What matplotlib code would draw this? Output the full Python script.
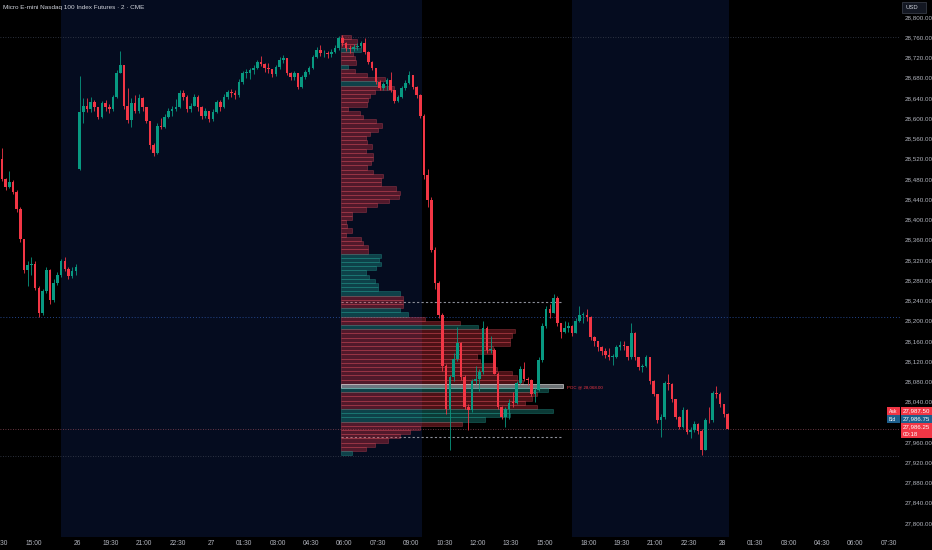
import matplotlib
matplotlib.use('Agg')
import matplotlib.pyplot as plt
from matplotlib.patches import Rectangle
import numpy as np

# ---------------- data ----------------
CANDLE_MIN = 10          # each candle = 10 trading minutes, t=0 at 13:30 (day 25), session gaps removed
first_open = 28520
gap_index = 21           # first candle of the 18:00 session (gap open)
gap_open = 28500

closes = [28480, 28465, 28473, 28455, 28420, 28362, 28300, 28310, 28312, 28265,
          28215, 28258, 28300, 28240, 28275, 28290, 28318, 28302, 28288, 28298,
          28305, 28612, 28625, 28618, 28632, 28622, 28603, 28630, 28622, 28618,
          28642, 28690, 28705, 28625, 28596, 28630, 28615, 28640, 28622, 28595,
          28548, 28532, 28585, 28583, 28602, 28615, 28618, 28622, 28650, 28642,
          28618, 28625, 28642, 28622, 28605, 28615, 28598, 28612, 28632, 28622,
          28642, 28652, 28650, 28645, 28672, 28690, 28690, 28695, 28700, 28712,
          28708, 28700, 28697, 28688, 28702, 28716, 28718, 28690, 28682, 28690,
          28662, 28682, 28692, 28700, 28720, 28735, 28728, 28728, 28726, 28730,
          28738, 28758, 28748, 28738, 28736, 28740, 28742, 28748, 28730, 28712,
          28700, 28672, 28660, 28668, 28675, 28656, 28634, 28642, 28660, 28670,
          28686, 28662, 28645, 28605, 28488, 28438, 28340, 28275, 28211, 28110,
          28025, 28088, 28125, 28155, 28088, 28030, 28023, 28080, 28085, 28098,
          28185, 28142, 28142, 28095, 28030, 28010, 28025, 28038, 28037, 28077,
          28105, 28085, 28082, 28055, 28062, 28122, 28190, 28222, 28215, 28245,
          28195, 28178, 28185, 28190, 28176, 28200, 28212, 28212, 28208, 28167,
          28160, 28148, 28140, 28132, 28128, 28128, 28148, 28152, 28150, 28128,
          28175, 28128, 28108, 28110, 28128, 28080, 28055, 28003, 28010, 28077,
          28075, 28045, 28010, 27990, 28023, 27980, 27984, 27996, 27982, 27945,
          28004, 28003, 28057, 28055, 28035, 28015, 27986.25]

highs = [28542, 28482, 28495, 28478, 28458, 28425, 28360, 28318, 28325, 28318,
         28268, 28262, 28305, 28302, 28282, 28296, 28322, 28325, 28305, 28306,
         28312, 28683, 28640, 28640, 28642, 28636, 28622, 28634, 28635, 28628,
         28645, 28695, 28732, 28705, 28660, 28640, 28645, 28648, 28642, 28622,
         28595, 28550, 28590, 28600, 28608, 28620, 28625, 28638, 28655, 28655,
         28645, 28630, 28648, 28645, 28625, 28620, 28615, 28618, 28636, 28635,
         28648, 28656, 28658, 28655, 28678, 28694, 28698, 28700, 28705, 28716,
         28722, 28710, 28710, 28698, 28706, 28720, 28724, 28718, 28692, 28694,
         28690, 28686, 28696, 28704, 28724, 28740, 28745, 28734, 28732, 28736,
         28744, 28762, 28764, 28750, 28744, 28746, 28748, 28752, 28758, 28732,
         28714, 28700, 28675, 28672, 28680, 28692, 28656, 28646, 28664, 28676,
         28694, 28686, 28664, 28648, 28608, 28500, 28444, 28345, 28278, 28215,
         28115, 28092, 28135, 28188, 28158, 28092, 28035, 28085, 28110, 28105,
         28200, 28190, 28170, 28145, 28098, 28032, 28030, 28045, 28058, 28080,
         28110, 28118, 28088, 28085, 28066, 28128, 28195, 28228, 28232, 28252,
         28248, 28196, 28200, 28198, 28192, 28205, 28228, 28216, 28222, 28210,
         28170, 28160, 28150, 28145, 28145, 28134, 28152, 28160, 28160, 28150,
         28196, 28178, 28128, 28115, 28132, 28128, 28082, 28055, 28015, 28080,
         28094, 28076, 28046, 28012, 28030, 28025, 27990, 28002, 27998, 27985,
         28008, 28030, 28060, 28070, 28058, 28036, 28018]

lows = [28475, 28458, 28462, 28450, 28415, 28355, 28295, 28268, 28290, 28260,
        28208, 28212, 28255, 28232, 28236, 28270, 28286, 28298, 28282, 28284,
        28290, 28497, 28590, 28612, 28612, 28615, 28598, 28600, 28615, 28610,
        28615, 28640, 28690, 28618, 28590, 28582, 28610, 28610, 28615, 28590,
        28540, 28525, 28530, 28578, 28580, 28600, 28605, 28615, 28620, 28635,
        28612, 28612, 28625, 28615, 28598, 28600, 28592, 28595, 28610, 28615,
        28620, 28638, 28642, 28638, 28642, 28668, 28680, 28678, 28688, 28698,
        28704, 28692, 28690, 28682, 28684, 28698, 28710, 28685, 28675, 28676,
        28658, 28660, 28678, 28688, 28698, 28718, 28722, 28720, 28718, 28720,
        28728, 28735, 28742, 28732, 28728, 28732, 28734, 28738, 28726, 28708,
        28695, 28668, 28655, 28656, 28656, 28652, 28630, 28632, 28640, 28656,
        28668, 28658, 28640, 28600, 28480, 28425, 28335, 28262, 28205, 28100,
        28015, 27944, 28080, 28120, 28082, 28025, 27984, 28020, 28075, 28060,
        28095, 28135, 28135, 28095, 28025, 28005, 27990, 28005, 28030, 28035,
        28075, 28080, 28072, 28050, 28040, 28060, 28118, 28185, 28205, 28225,
        28190, 28165, 28175, 28178, 28170, 28175, 28198, 28195, 28200, 28162,
        28150, 28140, 28132, 28126, 28122, 28112, 28126, 28142, 28142, 28122,
        28125, 28122, 28102, 28098, 28108, 28075, 28050, 27998, 27970, 28005,
        28062, 28040, 28005, 27985, 27988, 27975, 27968, 27980, 27976, 27934,
        27945, 27998, 28000, 28048, 28030, 28010, 27985]

time_tick_pos = [0, 90, 210, 300, 390, 480, 570, 660, 750, 840, 930, 1020, 1110,
                 1200, 1290, 1380, 1470, 1590, 1680, 1770, 1860, 1950, 2040, 2130,
                 2220, 2310, 2400]
time_tick_labels = ['13:30', '15:00', '26', '19:30', '21:00', '22:30', '27', '01:30',
                    '03:00', '04:30', '06:00', '07:30', '09:00', '10:30', '12:00',
                    '13:30', '15:00', '18:00', '19:30', '21:00', '22:30', '28',
                    '01:30', '03:00', '04:30', '06:00', '07:30']

session_spans = [(165, 1140), (1545, 1970)]

# fixed-range volume profile (rows listed top -> bottom)
vp_start, vp_end = 920, 1520
vp_low, vp_high = 27934, 28764
vp_volume = [10, 16, 16, 20, 12, 14, 15, 7, 14, 26,
             44, 36, 53, 34, 29, 27, 26, 7, 19, 22,
             35, 41, 37, 29, 25, 26, 31, 25, 32, 32,
             30, 26, 32, 42, 40, 40, 55, 59, 58, 48,
             36, 25, 11, 11, 5, 6, 11, 5, 20, 22,
             27, 27, 40, 38, 40, 35, 25, 28, 34, 37,
             37, 59, 62, 62, 62, 59, 67, 84, 119, 137,
             174, 171, 169, 169, 152, 154, 136, 139, 152, 156,
             171, 176, 182, 222, 207, 196, 191, 184, 196, 212,
             169, 144, 121, 79, 69, 59, 47, 34, 25, 11]
# d = down-dominant row, u = up-dominant row, p = point of control
vp_side = ['d', 'd', 'd', 'u', 'd', 'd', 'd', 'u', 'd', 'd',
           'd', 'u', 'd', 'd', 'd', 'd', 'd', 'd', 'd', 'd',
           'd', 'd', 'd', 'd', 'd', 'd', 'd', 'd', 'd', 'd',
           'd', 'd', 'd', 'd', 'd', 'd', 'd', 'd', 'd', 'd',
           'd', 'd', 'd', 'd', 'd', 'd', 'd', 'd', 'd', 'd',
           'd', 'd', 'u', 'u', 'u', 'u', 'u', 'u', 'u', 'u',
           'u', 'u', 'd', 'd', 'd', 'u', 'u', 'd', 'd', 'u',
           'd', 'd', 'd', 'd', 'd', 'd', 'd', 'd', 'd', 'd',
           'd', 'd', 'd', 'p', 'u', 'd', 'd', 'd', 'd', 'u',
           'u', 'u', 'd', 'd', 'd', 'd', 'd', 'd', 'd', 'u']
poc_price = 28068.00
va_high, va_low = 28237, 27970

session_high_line = 28760
ref_line = 28208
session_low_line = 27932
last_price = 27986.25
ask_price = 27987.50
bid_price = 27986.75
countdown = '00:18'
title = 'Micro E-mini Nasdaq 100 Index Futures · 2 · CME'

# ---------------- style ----------------
UP = '#089981'
DN = '#f23645'
NAVY = '#050c1f'
TXT = '#b2b5be'
plt.rcParams['font.family'] = ['Liberation Sans', 'DejaVu Sans']

W, H = 932, 550
fig = plt.figure(figsize=(W / 100, H / 100), dpi=100, facecolor='black')
ax = fig.add_axes([0, 13 / H, 900 / W, 537 / H])
ax.set_facecolor('black')
ax.set_xlim(0.9, 2430.7)
ax.set_ylim(27772.3, 28833.6)
for s in ax.spines.values():
    s.set_visible(False)

for a, b in session_spans:
    ax.axvspan(a, b, color=NAVY, zorder=0, lw=0)

# horizontal reference lines
ax.axhline(session_high_line, color='#3b4150', lw=0.6, ls=(0, (1, 2)), zorder=1)
ax.axhline(ref_line, color='#24468c', lw=0.7, ls=(0, (1, 2)), zorder=1)
ax.axhline(session_low_line, color='#3b4150', lw=0.6, ls=(0, (1, 2)), zorder=1)
ax.axhline(last_price, color='#8a4654', lw=0.6, ls=(0, (1, 2)), zorder=1)

# volume profile
n_rows = len(vp_volume)
row_h = (vp_high - vp_low) / n_rows
row_centers = [vp_high - row_h * (k + 0.5) for k in range(n_rows)]
vmax = max(vp_volume)
widths = [v / vmax * (vp_end - vp_start) for v in vp_volume]
fills, edges = [], []
for s in vp_side:
    if s == 'u':
        fills.append((0.12, 0.60, 0.56, 0.38)); edges.append((0.15, 0.65, 0.60, 0.5))
    elif s == 'd':
        fills.append((0.95, 0.21, 0.27, 0.32)); edges.append((0.95, 0.35, 0.40, 0.42))
    else:
        fills.append((0.70, 0.74, 0.76, 0.6)); edges.append((0.95, 0.95, 0.95, 0.9))
ax.plot([vp_start, vp_end], [va_high, va_high], color='#8c8f99', lw=0.8, ls=(0, (2, 2)), zorder=2)
ax.plot([vp_start, vp_end], [va_low, va_low], color='#8c8f99', lw=0.8, ls=(0, (2, 2)), zorder=2)
ax.barh(row_centers, widths, left=vp_start, height=row_h, color=fills,
        edgecolor=edges, linewidth=0.45, zorder=3)
ax.text(vp_end + 12, poc_price, f'POC @ {poc_price:,.2f}', color=DN, fontsize=3.2,
        va='center', ha='left', zorder=6)

# candles
opens = [first_open] + closes[:-1]
opens[gap_index] = gap_open
n = len(closes)
t_mid = np.arange(n) * CANDLE_MIN + CANDLE_MIN / 2
for i in range(n):
    o, c = opens[i], closes[i]
    hi = max(highs[i], o, c)
    lo = min(lows[i], o, c)
    col = UP if c >= o else DN
    ax.vlines(t_mid[i], lo, hi, color=col, lw=0.6, zorder=4)
    body_lo = min(o, c)
    body_h = max(abs(c - o), 1.2)
    ax.bar(t_mid[i], body_h, bottom=body_lo, width=CANDLE_MIN * 0.7, color=col,
           lw=0, zorder=5)

# axes ticks
yt = np.arange(27800, 28801, 40)
ax.set_yticks(yt)
ax.set_yticklabels([f'{v:,.2f}' for v in yt])
ax.yaxis.tick_right()
ax.tick_params(axis='y', length=0, pad=3, labelsize=4.5, labelcolor=TXT)
ax.set_xticks(time_tick_pos)
ax.set_xticklabels(time_tick_labels)
ax.tick_params(axis='x', length=0, pad=2.2, labelsize=4.8, labelcolor=TXT)
# the 28,000 label sits under the bid/last-price badges, as on the reference
for v, lab in zip(yt, ax.get_yticklabels()):
    if v == 28000:
        lab.set_visible(False)

# overlay in pixel coordinates for price-scale badges
ov = fig.add_axes([0, 0, 1, 1], zorder=10)
ov.set_xlim(0, W)
ov.set_ylim(H, 0)
ov.axis('off')
ov.patch.set_alpha(0)


def price_to_px(p):
    disp = ax.transData.transform((0, p))
    return H - disp[1]


ov.text(3, 7, title, color='#d1d4dc', fontsize=4.6, va='center', ha='left')
ov.add_patch(Rectangle((902, 2), 24, 11, facecolor='#131722', edgecolor='#363a45', lw=0.6))
ov.text(905, 7.5, 'USD', color='#d1d4dc', fontsize=4.2, va='center', ha='left')

yl = price_to_px(last_price) - 5.5      # top of last-price badge
yb = yl - 8
ya = yb - 8
ov.add_patch(Rectangle((887, ya), 13, 7.5, facecolor=DN, lw=0))
ov.add_patch(Rectangle((901, ya), 31, 7.5, facecolor=DN, lw=0))
ov.text(888.5, ya + 3.8, 'Ask', color='white', fontsize=3.6, va='center')
ov.text(903, ya + 3.8, f'{ask_price:,.2f}', color='white', fontsize=4.4, va='center')
ov.add_patch(Rectangle((887, yb), 13, 7.5, facecolor='#1d5f8c', lw=0))
ov.add_patch(Rectangle((901, yb), 31, 7.5, facecolor='#1d5f8c', lw=0))
ov.text(888.5, yb + 3.8, 'Bid', color='white', fontsize=3.6, va='center')
ov.text(903, yb + 3.8, f'{bid_price:,.2f}', color='white', fontsize=4.4, va='center')
ov.add_patch(Rectangle((901, yl), 31, 15, facecolor=DN, lw=0))
ov.text(903, yl + 4, f'{last_price:,.2f}', color='white', fontsize=4.4, va='center')
ov.text(903, yl + 11, countdown, color='white', fontsize=4.4, va='center')

fig.savefig('out.png', dpi=100, facecolor='black')
